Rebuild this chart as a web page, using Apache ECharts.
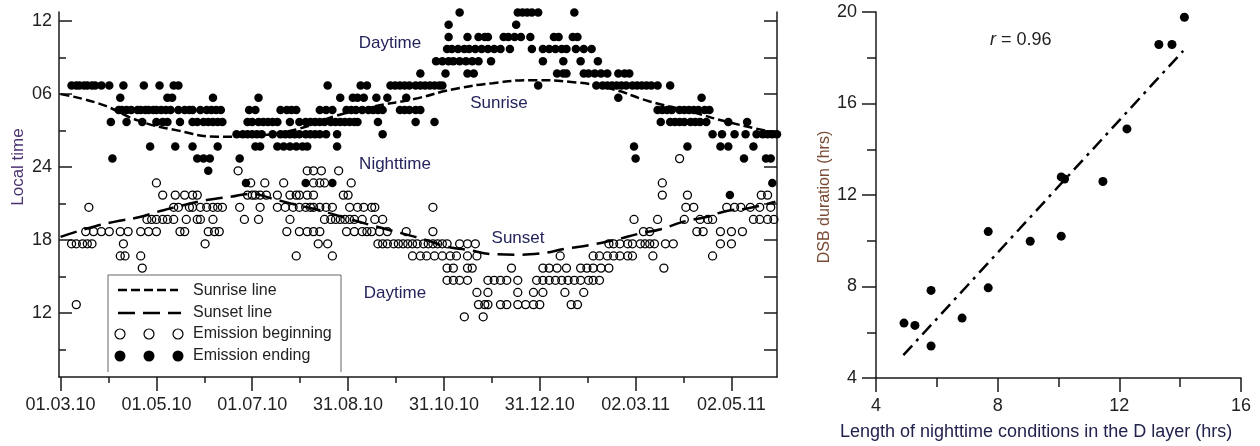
<!DOCTYPE html>
<html><head><meta charset="utf-8">
<script src="https://cdn.jsdelivr.net/npm/echarts@6/dist/echarts.min.js"></script>
<style>html,body{margin:0;padding:0;background:#fff}#c{width:1260px;height:446px}</style>
</head><body><div id="c"></div>
<script>
// ---------- left panel: axes ----------
const dateTickDays = [0, 61, 122, 183, 244, 305, 366, 427];
const dateTickLabels = ['01.03.10', '01.05.10', '01.07.10', '31.08.10', '31.10.10', '31.12.10', '02.03.11', '02.05.11'];
const dateMinorDays = [30.5, 91.5, 152.5, 213.5, 274.5, 335.5, 396.5];
const hourTicks = [12, 18, 24, 30, 36];
const hourTickLabels = ['12', '18', '24', '06', '12'];
const hourMinorTicks = [9, 15, 21, 27, 33];
const hourAllTicks = [9, 12, 15, 18, 21, 24, 27, 30, 33, 36];

// ---------- left panel: data (day since 01.03.10, local hour on continuous scale; 30.7 = 06:40 next day) ----------
const endingRows = [
  [36.7, [254, 291, 294, 297, 300, 304, 327]],
  [35.7, [247, 290]],
  [34.7, [247, 259, 266, 270, 272, 282, 285, 289, 293, 299, 314, 317, 326, 329]],
  [33.7, [246, 249, 253, 257, 260, 264, 268, 272, 276, 280, 286, 300, 307, 311, 315, 319, 322, 328, 333, 338]],
  [32.7, [239, 243, 247, 250, 254, 258, 262, 266, 274, 307, 320, 331, 342]],
  [31.7, [229, 245, 259, 263, 316, 320, 322, 333, 336, 340, 344, 348, 355, 359, 362]],
  [30.7, [7, 10, 12, 15, 17, 20, 22, 26, 31, 40, 53, 63, 72, 75, 170, 191, 195, 210, 213, 216, 219, 222, 226, 229, 232, 235, 238, 241, 243, 304, 341, 345, 348, 351, 354, 357, 360, 364, 367, 370, 373, 376, 380, 388]],
  [29.7, [38, 68, 71, 97, 126, 178, 186, 189, 193, 201, 208, 220, 355, 408]],
  [28.7, [37, 39, 42, 45, 49, 51, 54, 56, 59, 61, 64, 67, 70, 75, 79, 82, 84, 89, 93, 96, 99, 102, 120, 124, 140, 144, 147, 150, 165, 169, 173, 182, 185, 188, 192, 196, 199, 202, 205, 216, 219, 222, 226, 229, 380, 383, 386, 389, 394, 397, 400, 403, 406, 410, 413]],
  [27.7, [32, 42, 52, 61, 65, 68, 76, 84, 87, 91, 94, 97, 100, 103, 119, 122, 126, 129, 132, 135, 138, 146, 152, 156, 159, 162, 165, 168, 172, 175, 178, 181, 184, 187, 189, 202, 226, 238, 382, 388, 391, 394, 397, 401, 404, 407, 411, 425, 437]],
  [26.7, [112, 116, 119, 122, 125, 128, 135, 140, 143, 146, 149, 152, 156, 159, 162, 165, 169, 176, 205, 415, 421, 429, 436, 443, 447, 450, 453, 456]],
  [25.7, [57, 73, 84, 100, 124, 127, 138, 142, 146, 150, 154, 157, 176, 365, 399, 420, 425, 441]],
  [24.7, [33, 87, 91, 95, 114, 366, 435, 449, 452]],
  [23.7, [94]],
  [22.7, [118, 156, 173, 453]],
  [21.7, [426]]
];
const beginningRows = [
  [24.7, [394]],
  [23.7, [113, 157, 161, 166, 177]],
  [22.7, [61, 121, 130, 142, 161, 165, 168, 185, 383]],
  [21.7, [65, 73, 79, 84, 87, 119, 122, 124, 127, 131, 138, 146, 150, 152, 157, 161, 180, 183, 383, 399, 446, 450]],
  [20.7, [18, 72, 75, 82, 84, 89, 93, 97, 100, 103, 114, 127, 138, 143, 148, 152, 156, 159, 161, 165, 169, 173, 184, 189, 193, 198, 200, 237, 398, 403, 424, 429, 433, 439, 445, 452]],
  [19.7, [55, 58, 61, 65, 68, 72, 80, 87, 89, 97, 117, 126, 146, 168, 172, 175, 178, 181, 184, 187, 192, 200, 205, 365, 380, 397, 407, 412, 415, 441, 445, 450, 454]],
  [18.7, [16, 21, 26, 31, 38, 43, 51, 56, 61, 76, 79, 94, 98, 101, 144, 152, 157, 161, 165, 182, 187, 192, 195, 198, 203, 208, 220, 237, 371, 375, 405, 409, 420, 427, 434]],
  [17.7, [7, 10, 14, 17, 20, 40, 92, 164, 170, 202, 205, 208, 212, 215, 218, 221, 224, 227, 231, 234, 237, 240, 243, 246, 254, 259, 264, 349, 352, 356, 361, 364, 369, 372, 375, 378, 385, 390, 420, 427]],
  [16.7, [38, 41, 51, 150, 173, 224, 229, 233, 238, 243, 248, 252, 259, 265, 318, 339, 343, 348, 352, 356, 361, 364, 377, 415]],
  [15.7, [52, 246, 250, 259, 262, 287, 307, 311, 316, 322, 331, 335, 339, 344, 349, 384]],
  [14.7, [246, 250, 254, 259, 272, 276, 280, 284, 291, 303, 307, 311, 315, 319, 323, 327, 331, 336, 339, 343]],
  [13.7, [265, 272, 291, 301, 307, 321, 333]],
  [12.7, [10, 266, 270, 272, 280, 284, 291, 296, 301, 305, 325, 329]],
  [11.7, [257, 269]]
];
const sunriseLine = [[0, 30.0], [25, 29.2], [50, 27.8], [75, 27.0], [100, 26.5], [125, 26.6], [150, 27.1], [175, 28.2], [200, 29.0], [225, 29.6], [250, 30.4], [275, 30.9], [300, 31.15], [325, 31.0], [350, 30.45], [375, 29.4], [400, 28.6], [425, 27.7], [456, 26.8]];
const sunsetLine = [[0, 18.27], [17, 18.96], [34, 19.5], [49, 19.86], [64, 20.41], [78, 20.87], [93, 21.29], [108, 21.56], [121, 21.8], [135, 21.4], [150, 20.9], [165, 20.45], [182, 19.8], [200, 19.15], [216, 18.6], [233, 18.0], [246, 17.45], [259, 17.2], [275, 16.85], [290, 16.8], [305, 16.9], [322, 17.3], [337, 17.6], [352, 18.0], [369, 18.55], [382, 18.9], [396, 19.5], [411, 19.9], [424, 20.4], [437, 20.6], [455, 21.15]];

// ---------- right panel data ----------
const nightLength = [4.92, 5.28, 5.81, 5.81, 6.83, 7.69, 7.69, 9.07, 10.09, 10.09, 10.2, 11.46, 12.25, 13.3, 13.73, 14.14];
const dsbDuration = [6.40, 6.30, 7.83, 5.40, 6.62, 10.40, 7.94, 9.98, 10.2, 12.79, 12.7, 12.59, 14.89, 18.58, 18.58, 19.77];
const fitX = [4.9, 14.1];
const fitY = [5.0, 18.3];

// ---------- build ----------
const FONT = '"Liberation Sans", Arial, Helvetica, sans-serif';
const AX = '#1a1a1a';
const toPts = rows => rows.flatMap(([h, days]) => days.map(d => [d, h]));
const lineSt = { color: AX, width: 1.5 };

const chart = echarts.init(document.getElementById('c'), null, { renderer: 'canvas' });
const option = {
  animation: false,
  backgroundColor: '#fff',
  textStyle: { fontFamily: FONT },
  grid: [
    { left: 59, top: 12, width: 718, height: 365 },
    { left: 876, top: 12, width: 365, height: 366 }
  ],
  xAxis: [
    { gridIndex: 0, type: 'value', min: -1, max: 456,
      axisLine: { show: true, onZero: false, lineStyle: lineSt }, splitLine: { show: false },
      axisTick: { show: true, customValues: dateTickDays, length: 14, lineStyle: lineSt },
      axisLabel: { customValues: dateTickDays, formatter: v => dateTickLabels[dateTickDays.indexOf(v)], fontSize: 18, color: '#222', margin: 19, fontFamily: FONT } },
    { gridIndex: 0, type: 'value', min: -1, max: 456, position: 'bottom',
      axisLine: { show: false, onZero: false }, splitLine: { show: false },
      axisTick: { show: true, customValues: dateMinorDays, length: 6, lineStyle: lineSt },
      axisLabel: { show: false } },
    { gridIndex: 1, type: 'value', min: 4, max: 16, interval: 4,
      axisLine: { show: true, onZero: false, lineStyle: lineSt }, splitLine: { show: false },
      axisTick: { show: true, length: 14, lineStyle: lineSt },
      minorTick: { show: true, splitNumber: 2, length: 9, lineStyle: lineSt }, minorSplitLine: { show: false },
      axisLabel: { fontSize: 18, color: '#222', margin: 19, fontFamily: FONT } }
  ],
  yAxis: [
    { gridIndex: 0, type: 'value', min: 6.75, max: 36.75, position: 'left',
      axisLine: { show: true, onZero: false, lineStyle: lineSt }, splitLine: { show: false },
      axisTick: { show: true, inside: true, customValues: hourTicks, length: 13, lineStyle: lineSt },
      axisLabel: { customValues: hourTicks, formatter: v => hourTickLabels[hourTicks.indexOf(v)], fontSize: 18, color: '#222', margin: 7, fontFamily: FONT } },
    { gridIndex: 0, type: 'value', min: 6.75, max: 36.75, position: 'left',
      axisLine: { show: false, onZero: false }, splitLine: { show: false },
      axisTick: { show: true, inside: true, customValues: hourMinorTicks, length: 7, lineStyle: lineSt },
      axisLabel: { show: false } },
    { gridIndex: 0, type: 'value', min: 6.75, max: 36.75, position: 'right',
      axisLine: { show: true, onZero: false, lineStyle: lineSt }, splitLine: { show: false },
      axisTick: { show: true, inside: true, customValues: hourAllTicks, length: 13, lineStyle: lineSt },
      axisLabel: { show: false } },
    { gridIndex: 1, type: 'value', min: 4, max: 20, interval: 4,
      axisLine: { show: true, onZero: false, lineStyle: lineSt }, splitLine: { show: false },
      axisTick: { show: true, length: 14, lineStyle: lineSt },
      minorTick: { show: true, splitNumber: 2, length: 9, lineStyle: lineSt }, minorSplitLine: { show: false },
      axisLabel: { fontSize: 18, color: '#222', margin: 19, fontFamily: FONT } }
  ],
  series: [
    { name: 'Emission beginning', type: 'scatter', xAxisIndex: 0, yAxisIndex: 0, data: toPts(beginningRows),
      symbol: 'circle', symbolSize: 8, itemStyle: { color: 'rgba(255,255,255,0)', borderColor: '#000', borderWidth: 1.3, opacity: 1 }, z: 3 },
    { name: 'Emission ending', type: 'scatter', xAxisIndex: 0, yAxisIndex: 0, data: toPts(endingRows),
      symbol: 'circle', symbolSize: 8.5, itemStyle: { color: '#000', opacity: 1 }, z: 3 },
    { name: 'Sunrise line', type: 'line', xAxisIndex: 0, yAxisIndex: 0, data: sunriseLine, smooth: 0.5, showSymbol: false, symbol: 'none',
      lineStyle: { color: '#000', width: 2.5, type: [9, 4] }, z: 4 },
    { name: 'Sunset line', type: 'line', xAxisIndex: 0, yAxisIndex: 0, data: sunsetLine, smooth: 0.5, showSymbol: false, symbol: 'none',
      lineStyle: { color: '#000', width: 2.5, type: [17, 8] }, z: 4 },
    { name: 'DSB', type: 'scatter', xAxisIndex: 2, yAxisIndex: 3, data: nightLength.map((x, i) => [x, dsbDuration[i]]),
      symbol: 'circle', symbolSize: 9, itemStyle: { color: '#000', opacity: 1 } },
    { name: 'fit', type: 'line', xAxisIndex: 2, yAxisIndex: 3, data: fitX.map((x, i) => [x, fitY[i]]), showSymbol: false, symbol: 'none',
      lineStyle: { color: '#000', width: 2.5, type: [13, 6, 3, 6] } }
  ],
  graphic: [
    // annotations
    { type: 'text', x: 390, y: 43, style: { text: 'Daytime', fontSize: 17, fontFamily: FONT, fill: '#24245c', align: 'center', verticalAlign: 'middle' } },
    { type: 'text', x: 499, y: 103, style: { text: 'Sunrise', fontSize: 17, fontFamily: FONT, fill: '#24245c', align: 'center', verticalAlign: 'middle' } },
    { type: 'text', x: 395, y: 164, style: { text: 'Nighttime', fontSize: 17, fontFamily: FONT, fill: '#24245c', align: 'center', verticalAlign: 'middle' } },
    { type: 'text', x: 518, y: 238, style: { text: 'Sunset', fontSize: 17, fontFamily: FONT, fill: '#24245c', align: 'center', verticalAlign: 'middle' } },
    { type: 'text', x: 395, y: 293, style: { text: 'Daytime', fontSize: 17, fontFamily: FONT, fill: '#24245c', align: 'center', verticalAlign: 'middle' } },
    // axis titles
    { type: 'text', x: 18, y: 167, rotation: Math.PI / 2, style: { text: 'Local time', fontSize: 17, fontFamily: FONT, fill: '#4a3070', align: 'center', verticalAlign: 'middle' } },
    { type: 'text', x: 825, y: 197, rotation: Math.PI / 2, style: { text: 'DSB duration (hrs)', fontSize: 16, fontFamily: FONT, fill: '#7a4a34', align: 'center', verticalAlign: 'middle' } },
    { type: 'text', x: 840, y: 432, style: { text: 'Length of nighttime conditions in the D layer (hrs)', fontSize: 18, fontFamily: FONT, fill: '#22224e', align: 'left', verticalAlign: 'middle' } },
    { type: 'text', x: 990, y: 40, style: { text: '{i|r} = 0.96', fontSize: 18, fontFamily: FONT, fill: '#222', align: 'left', verticalAlign: 'middle',
      rich: { i: { fontStyle: 'italic', fontSize: 18, fontFamily: FONT, fill: '#222' } } } },
    // legend box
    { type: 'polyline', shape: { points: [[108, 372], [108, 275], [341, 275], [341, 372]] }, style: { stroke: '#666', lineWidth: 1, fill: null } },
    { type: 'line', shape: { x1: 118, y1: 290, x2: 178, y2: 290 }, style: { stroke: '#000', lineWidth: 2.5, lineDash: [9, 4] } },
    { type: 'line', shape: { x1: 118, y1: 313, x2: 181, y2: 313 }, style: { stroke: '#000', lineWidth: 2.5, lineDash: [17, 8] } },
    { type: 'circle', shape: { cx: 120, cy: 334, r: 5 }, style: { stroke: '#000', lineWidth: 1.2, fill: '#fff' } },
    { type: 'circle', shape: { cx: 149, cy: 334, r: 5 }, style: { stroke: '#000', lineWidth: 1.2, fill: '#fff' } },
    { type: 'circle', shape: { cx: 178, cy: 334, r: 5 }, style: { stroke: '#000', lineWidth: 1.2, fill: '#fff' } },
    { type: 'circle', shape: { cx: 120, cy: 356, r: 5.5 }, style: { fill: '#000' } },
    { type: 'circle', shape: { cx: 149, cy: 356, r: 5.5 }, style: { fill: '#000' } },
    { type: 'circle', shape: { cx: 178, cy: 356, r: 5.5 }, style: { fill: '#000' } },
    { type: 'text', x: 193, y: 291, style: { text: 'Sunrise line', fontSize: 16, fontFamily: FONT, fill: '#222', align: 'left', verticalAlign: 'middle' } },
    { type: 'text', x: 193, y: 313, style: { text: 'Sunset line', fontSize: 16, fontFamily: FONT, fill: '#222', align: 'left', verticalAlign: 'middle' } },
    { type: 'text', x: 193, y: 334, style: { text: 'Emission beginning', fontSize: 16, fontFamily: FONT, fill: '#222', align: 'left', verticalAlign: 'middle' } },
    { type: 'text', x: 193, y: 356, style: { text: 'Emission ending', fontSize: 16, fontFamily: FONT, fill: '#222', align: 'left', verticalAlign: 'middle' } }
  ]
};
chart.setOption(option);
</script>
</body></html>
